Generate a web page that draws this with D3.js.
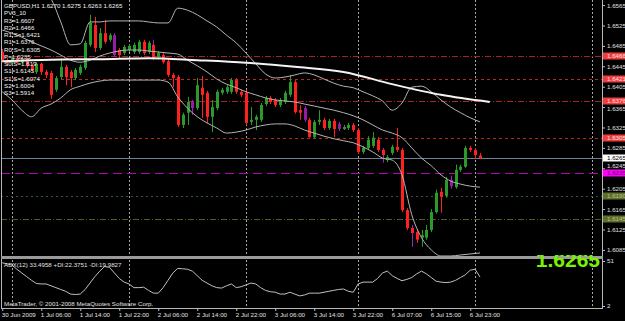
<!DOCTYPE html>
<html>
<head>
<meta charset="utf-8">
<script src="https://cdn.jsdelivr.net/npm/d3@7"></script>
<style>
    html, body { margin: 0; padding: 0; background: #000; overflow: hidden; }
    svg { display: block; font-family: "Liberation Sans", Arial, sans-serif; }
</style>
</head>
<body>
<div id="chart"></div>
<script>
'use strict';

// GBPUSD H1, bars from 30 Jun 2009 22:00 to 7 Jul 2009 01:00.
var symbol = 'GBPUSD,H1';

var opens = [
    1.6473, 1.6457, 1.6452, 1.6461, 1.6453, 1.6459, 1.6446, 1.6434, 1.6450, 1.6434,
    1.6432, 1.6399, 1.6424, 1.6444, 1.6434, 1.6422, 1.6432, 1.6442, 1.6487, 1.6526,
    1.6481, 1.6510, 1.6497, 1.6506, 1.6477, 1.6471, 1.6477, 1.6473, 1.6473, 1.6493,
    1.6473, 1.6487, 1.6463, 1.6467, 1.6455, 1.6428, 1.6424, 1.6330, 1.6354, 1.6375,
    1.6363, 1.6403, 1.6393, 1.6346, 1.6363, 1.6393, 1.6395, 1.6395, 1.6418, 1.6395,
    1.6393, 1.6336, 1.6340, 1.6340, 1.6371, 1.6383, 1.6379, 1.6369, 1.6375, 1.6389,
    1.6414, 1.6359, 1.6363, 1.6340, 1.6306, 1.6336, 1.6340, 1.6324, 1.6338, 1.6332,
    1.6322, 1.6324, 1.6330, 1.6320, 1.6277, 1.6285, 1.6289, 1.6301, 1.6281, 1.6261,
    1.6275, 1.6287, 1.6281, 1.6163, 1.6128, 1.6120, 1.6109, 1.6109, 1.6124, 1.6159,
    1.6199, 1.6191, 1.6222, 1.6208, 1.6242, 1.6248, 1.6285, 1.6281, 1.6270
];
var highs = [
    1.6479, 1.6461, 1.6465, 1.6465, 1.6463, 1.6461, 1.6450, 1.6453, 1.6452, 1.6438,
    1.6436, 1.6426, 1.6461, 1.6448, 1.6438, 1.6442, 1.6448, 1.6495, 1.6546, 1.6542,
    1.6520, 1.6536, 1.6510, 1.6510, 1.6481, 1.6487, 1.6489, 1.6491, 1.6497, 1.6497,
    1.6495, 1.6497, 1.6475, 1.6471, 1.6461, 1.6432, 1.6428, 1.6354, 1.6385, 1.6379,
    1.6422, 1.6426, 1.6397, 1.6379, 1.6399, 1.6403, 1.6408, 1.6422, 1.6422, 1.6399,
    1.6399, 1.6365, 1.6350, 1.6373, 1.6387, 1.6387, 1.6383, 1.6383, 1.6397, 1.6428,
    1.6418, 1.6369, 1.6367, 1.6344, 1.6340, 1.6359, 1.6344, 1.6342, 1.6342, 1.6336,
    1.6330, 1.6334, 1.6334, 1.6324, 1.6289, 1.6308, 1.6316, 1.6306, 1.6285, 1.6271,
    1.6291, 1.6324, 1.6285, 1.6167, 1.6134, 1.6126, 1.6124, 1.6134, 1.6165, 1.6203,
    1.6207, 1.6228, 1.6230, 1.6252, 1.6252, 1.6289, 1.6289, 1.6285, 1.6275
];
var lows = [
    1.6453, 1.6446, 1.6448, 1.6450, 1.6450, 1.6442, 1.6434, 1.6430, 1.6428, 1.6422,
    1.6381, 1.6395, 1.6420, 1.6408, 1.6404, 1.6418, 1.6428, 1.6438, 1.6483, 1.6473,
    1.6477, 1.6489, 1.6493, 1.6463, 1.6461, 1.6467, 1.6473, 1.6469, 1.6469, 1.6467,
    1.6469, 1.6457, 1.6461, 1.6450, 1.6424, 1.6404, 1.6326, 1.6324, 1.6330, 1.6350,
    1.6359, 1.6344, 1.6334, 1.6316, 1.6359, 1.6389, 1.6391, 1.6391, 1.6391, 1.6385,
    1.6330, 1.6330, 1.6320, 1.6336, 1.6367, 1.6371, 1.6365, 1.6365, 1.6371, 1.6385,
    1.6352, 1.6340, 1.6336, 1.6305, 1.6303, 1.6330, 1.6320, 1.6320, 1.6306, 1.6318,
    1.6320, 1.6320, 1.6316, 1.6273, 1.6273, 1.6281, 1.6285, 1.6277, 1.6256, 1.6257,
    1.6271, 1.6277, 1.6159, 1.6124, 1.6091, 1.6099, 1.6091, 1.6105, 1.6120, 1.6156,
    1.6158, 1.6187, 1.6205, 1.6205, 1.6238, 1.6246, 1.6277, 1.6263, 1.6263
];
var closes = [
    1.6457, 1.6452, 1.6461, 1.6453, 1.6459, 1.6446, 1.6438, 1.6450, 1.6434, 1.6428,
    1.6389, 1.6422, 1.6444, 1.6424, 1.6422, 1.6438, 1.6444, 1.6491, 1.6530, 1.6481,
    1.6510, 1.6493, 1.6506, 1.6467, 1.6467, 1.6483, 1.6485, 1.6487, 1.6493, 1.6471,
    1.6491, 1.6461, 1.6471, 1.6453, 1.6428, 1.6422, 1.6330, 1.6350, 1.6375, 1.6363,
    1.6408, 1.6389, 1.6346, 1.6365, 1.6395, 1.6399, 1.6404, 1.6418, 1.6395, 1.6389,
    1.6334, 1.6340, 1.6346, 1.6369, 1.6383, 1.6375, 1.6369, 1.6379, 1.6393, 1.6414,
    1.6355, 1.6354, 1.6340, 1.6306, 1.6336, 1.6340, 1.6324, 1.6338, 1.6322, 1.6322,
    1.6326, 1.6330, 1.6320, 1.6277, 1.6285, 1.6301, 1.6305, 1.6281, 1.6271, 1.6267,
    1.6287, 1.6281, 1.6163, 1.6128, 1.6118, 1.6105, 1.6114, 1.6124, 1.6159, 1.6197,
    1.6189, 1.6222, 1.6210, 1.6242, 1.6248, 1.6285, 1.6281, 1.6271, 1.6265
];
// Bars painted purple on the screenshot (purple wick; the first group also has a purple body).
var purpleBodyBars = [23, 39, 62, 69, 92];
var purpleWickBars = [31, 78, 84];

// Bollinger bands, read every second bar (bar 0, 2, 4 ... 98).
var bbStep = 2;
var bbUpper = [
    1.6673, 1.6649, 1.6628, 1.6608, 1.6591, 1.6577, 1.6532, 1.6487, 1.6489, 1.6532,
    1.6532, 1.6534, 1.6534, 1.6534, 1.6534, 1.6532, 1.6530, 1.6530, 1.6559, 1.6555,
    1.6546, 1.6534, 1.6522, 1.6506, 1.6491, 1.6471, 1.6450, 1.6430, 1.6422, 1.6424,
    1.6428, 1.6432, 1.6428, 1.6420, 1.6412, 1.6406, 1.6403, 1.6395, 1.6387, 1.6377,
    1.6359, 1.6373, 1.6404, 1.6406, 1.6395, 1.6379, 1.6365, 1.6354, 1.6344, 1.6336
];
var bbMiddle = [
    1.6516, 1.6510, 1.6502, 1.6493, 1.6485, 1.6477, 1.6467, 1.6457, 1.6453, 1.6457,
    1.6465, 1.6471, 1.6475, 1.6477, 1.6477, 1.6475, 1.6473, 1.6471, 1.6469, 1.6457,
    1.6446, 1.6434, 1.6420, 1.6410, 1.6403, 1.6395, 1.6389, 1.6383, 1.6379, 1.6377,
    1.6375, 1.6371, 1.6367, 1.6363, 1.6359, 1.6354, 1.6348, 1.6340, 1.6330, 1.6320,
    1.6314, 1.6305, 1.6285, 1.6265, 1.6250, 1.6232, 1.6220, 1.6214, 1.6210, 1.6208
];
var bbLower = [
    1.6395, 1.6379, 1.6359, 1.6346, 1.6363, 1.6371, 1.6383, 1.6399, 1.6406, 1.6412,
    1.6416, 1.6418, 1.6418, 1.6418, 1.6418, 1.6418, 1.6418, 1.6414, 1.6385, 1.6363,
    1.6346, 1.6334, 1.6324, 1.6314, 1.6316, 1.6320, 1.6326, 1.6330, 1.6332, 1.6332,
    1.6328, 1.6320, 1.6314, 1.6308, 1.6303, 1.6299, 1.6295, 1.6287, 1.6277, 1.6265,
    1.6261, 1.6232, 1.6154, 1.6109, 1.6085, 1.6073, 1.6073, 1.6075, 1.6077, 1.6079
];

// Long moving average (white), read every tenth bar (it runs two bars past the last candle).
var maStep = 10;
var maValues = [1.6455, 1.6458, 1.6459, 1.6461, 1.6457, 1.6452, 1.6444, 1.6434, 1.6410, 1.6389, 1.6375];

// ADX(12) sub window, one value per bar.
var adxValues = [
    49, 48, 46.5, 42, 38, 34, 30, 26.5, 26, 26,
    24, 22, 20, 18, 15, 14.5, 15, 20, 27, 34,
    40, 45, 44, 38, 32, 28, 26, 22, 22, 22.5,
    19, 16, 16, 22, 30, 38, 43, 42.5, 42, 40,
    35, 30, 27, 24, 22, 21.5, 24, 26, 22, 23,
    25, 27, 26, 22, 19, 17.5, 17, 15, 15, 17,
    15, 13, 14, 16, 16, 16, 17, 18, 19, 20,
    20.5, 18, 17, 26, 28, 28, 28, 32, 38, 40,
    35, 32, 29.5, 31, 33, 37, 40, 37, 33, 29,
    28, 27.5, 28, 30, 33, 36, 41, 42, 33.5
];
var adxLegend = 'ADX(12) 33.4958 +DI:22.3751 -DI:19.9827';
var adxScaleLabels = [2, 51];

// PV3_10 pivot levels.
var pivotNames  = ['R3', 'R2', 'R1:S', 'R1', 'R0:S', 'P', 'S0:S', 'S1', 'S1:S', 'S2', 'S3'];
var pivotValues = [1.6607, 1.6466, 1.6421, 1.6376, 1.6305, 1.6235, 1.6190, 1.6145, 1.6074, 1.6004, 1.5914];

// Axis ticks.
var priceTicks = [1.6565, 1.6525, 1.6485, 1.6445, 1.6405, 1.6365, 1.6325, 1.6285, 1.6245, 1.6205, 1.6165, 1.6125, 1.6085];
var timeTickBars = [0, 8, 16, 24, 32, 40, 48, 56, 64, 72, 80, 88, 96];
var timeLabels = ['30 Jun 2009', '1 Jul 06:00', '1 Jul 14:00', '1 Jul 22:00', '2 Jul 06:00', '2 Jul 14:00',
    '2 Jul 22:00', '3 Jul 06:00', '3 Jul 14:00', '3 Jul 22:00', '6 Jul 07:00', '6 Jul 15:00', '6 Jul 23:00'];
var dayStartBars = [2, 26, 50, 73, 97, 121];

// ---------------------------------------------------------------------------

var width = 625,
    height = 321,
    left = 1,
    right = 602,
    mainTop = 0,
    mainBottom = 256,
    subTop = 259,
    subBottom = 308,
    fontSize = 6.2,
    tagHeight = 7;

var pivotStyle = {
    'R2':   { color: '#a82424', dash: '6,2,1,2', label: '#f03c3c', text: '#ffe0e0' },
    'R1:S': { color: '#b82a20', dash: '3,3',     label: '#f03c3c', text: '#ffe0e0' },
    'R1':   { color: '#a82424', dash: '6,2,1,2', label: '#f03c3c', text: '#ffe0e0' },
    'R0:S': { color: '#b82a20', dash: '3,3',     label: '#f03c3c', text: '#ffe0e0' },
    'P':    { color: '#b800b8', dash: '9,5',     label: '#ff00ff', text: '#500050' },
    'S0:S': { color: '#2e5a2e', dash: '2,3',     label: '#5f6f2a', text: '#b8c090' },
    'S1':   { color: '#4c5a26', dash: '6,2,1,2', label: '#5f6f2a', text: '#b8c090' }
};

var svg = d3.select('#chart').append('svg')
    .attr('width', width)
    .attr('height', height);

svg.append('rect').attr('width', width).attr('height', height).attr('fill', '#000');

var defs = svg.append('defs');
defs.append('clipPath').attr('id', 'clipMain').append('rect')
    .attr('x', left).attr('y', mainTop).attr('width', right - left).attr('height', mainBottom - mainTop);
defs.append('clipPath').attr('id', 'clipSub').append('rect')
    .attr('x', left).attr('y', subTop).attr('width', right - left).attr('height', subBottom - subTop);
defs.append('clipPath').attr('id', 'clipBig').append('rect')
    .attr('x', left).attr('y', 255).attr('width', right - left).attr('height', subBottom - 255);

var x = d3.scaleLinear().domain([0, closes.length - 1]).range([2.25, 480]);
var y = d3.scaleLinear().domain([1.6073, 1.6575]).range([mainBottom, mainTop]);
var yAdx = d3.scaleLinear().domain([2, 51]).range([306, 261]);
var fmt = d3.format('.4f');

// Vertical day separators (both windows).
svg.append('g').selectAll('line')
    .data(dayStartBars)
    .enter().append('line')
    .attr('x1', function (d) { return Math.round(x(d)) + 0.5; })
    .attr('x2', function (d) { return Math.round(x(d)) + 0.5; })
    .attr('y1', mainTop)
    .attr('y2', subBottom)
    .attr('stroke', '#a8a8a8')
    .attr('stroke-dasharray', '2,2');

var main = svg.append('g').attr('clip-path', 'url(#clipMain)');

// Pivot lines that fall inside the price window.
var pivots = pivotNames.map(function (name, i) {
    return { name: name, value: pivotValues[i] };
}).filter(function (d) {
    return pivotStyle[d.name] && d.value > y.domain()[0] + 0.001 && d.value < y.domain()[1];
});

main.selectAll('.pivot')
    .data(pivots)
    .enter().append('line')
    .attr('class', 'pivot')
    .attr('x1', left)
    .attr('x2', right)
    .attr('y1', function (d) { return Math.round(y(d.value)) + 0.5; })
    .attr('y2', function (d) { return Math.round(y(d.value)) + 0.5; })
    .attr('stroke', function (d) { return pivotStyle[d.name].color; })
    .attr('stroke-dasharray', function (d) { return pivotStyle[d.name].dash; });

// Bid line.
var lastClose = closes[closes.length - 1];
main.append('line')
    .attr('x1', left).attr('x2', right)
    .attr('y1', Math.round(y(lastClose)) + 0.5)
    .attr('y2', Math.round(y(lastClose)) + 0.5)
    .attr('stroke', '#6f8090');

// Candles.
var bars = closes.map(function (c, i) {
    var up = c >= opens[i],
        base = up ? '#2a9a2a' : '#ff2020',
        purpleBody = purpleBodyBars.indexOf(i) >= 0,
        purpleWick = purpleBody || purpleWickBars.indexOf(i) >= 0;

    return {
        i: i, o: opens[i], h: highs[i], l: lows[i], c: c,
        body: purpleBody ? '#9a1aa8' : base,
        wick: purpleWick ? '#a020c0' : base
    };
});

var candle = main.selectAll('.candle')
    .data(bars)
    .enter().append('g')
    .attr('class', 'candle');

candle.append('line')
    .attr('x1', function (d) { return Math.round(x(d.i)) + 0.5; })
    .attr('x2', function (d) { return Math.round(x(d.i)) + 0.5; })
    .attr('y1', function (d) { return y(d.h); })
    .attr('y2', function (d) { return y(d.l); })
    .attr('stroke', function (d) { return d.wick; });

candle.append('rect')
    .attr('x', function (d) { return Math.round(x(d.i)) - 1; })
    .attr('y', function (d) { return y(Math.max(d.o, d.c)); })
    .attr('width', 3)
    .attr('height', function (d) { return Math.max(1, Math.abs(y(d.o) - y(d.c))); })
    .attr('fill', function (d) { return d.body; });

// Bollinger bands.
var bandLine = d3.line()
    .x(function (d, k) { return x(k * bbStep); })
    .y(function (d) { return y(d); })
    .curve(d3.curveMonotoneX);

[bbUpper, bbMiddle, bbLower].forEach(function (band) {
    main.append('path')
        .attr('d', bandLine(band))
        .attr('fill', 'none')
        .attr('stroke', '#b4b4b4')
        .attr('stroke-width', 1);
});

// Long moving average.
main.append('path')
    .attr('d', d3.line()
        .x(function (d, k) { return x(k * maStep); })
        .y(function (d) { return y(d); })
        .curve(d3.curveMonotoneX)(maValues))
    .attr('fill', 'none')
    .attr('stroke', '#f4f4f4')
    .attr('stroke-width', 2);

// ADX window.
var sub = svg.append('g').attr('clip-path', 'url(#clipSub)');
sub.append('path')
    .attr('d', d3.line()
        .x(function (d, i) { return x(i); })
        .y(function (d) { return yAdx(d); })(adxValues))
    .attr('fill', 'none')
    .attr('stroke', '#c0c0c0');

// Frames and window separator.
var frame = svg.append('g').attr('stroke', '#b8b8b8').attr('fill', 'none');
frame.append('line').attr('x1', left + 0.5).attr('x2', left + 0.5).attr('y1', 0).attr('y2', subBottom);
frame.append('line').attr('x1', right + 0.5).attr('x2', right + 0.5).attr('y1', 0).attr('y2', subBottom + 1);
frame.append('line').attr('x1', left).attr('x2', right).attr('y1', subBottom + 0.5).attr('y2', subBottom + 0.5);
svg.append('rect')
    .attr('x', left).attr('y', mainBottom)
    .attr('width', right - left + 1).attr('height', 3)
    .attr('fill', '#9a9a9a');
frame.append('line').attr('x1', left).attr('x2', right).attr('y1', mainBottom + 0.5).attr('y2', mainBottom + 0.5).attr('stroke', '#e0e0e0');
frame.append('line').attr('x1', left).attr('x2', right).attr('y1', mainBottom + 2.5).attr('y2', mainBottom + 2.5).attr('stroke', '#e0e0e0');

// Price tags (pivots and bid), needed before the axis so ticks can dodge them.
var tags = pivots.map(function (d) {
    return { value: d.value, fill: pivotStyle[d.name].label, text: pivotStyle[d.name].text };
});
tags.push({ value: lastClose, fill: '#ffffff', text: '#000000' });

// Axes.
function styleAxis(g) {
    g.select('.domain').remove();
    g.selectAll('.tick line').attr('stroke', '#c0c0c0');
    g.selectAll('.tick text').attr('fill', '#e0e0e0').style('font-size', fontSize + 'px');
}

var priceAxis = svg.append('g')
    .attr('transform', 'translate(' + right + ',0)')
    .call(d3.axisRight(y).tickValues(priceTicks).tickSize(3).tickPadding(2).tickFormat(fmt))
    .call(styleAxis);

// Nudge tick labels that would sit under a price tag.
priceAxis.selectAll('.tick text').attr('y', function (d) {
    var shift = 0;
    tags.forEach(function (t) {
        var gap = y(d) - Math.round(y(t.value));
        if (Math.abs(gap) < 7.5) {
            shift = gap < 0 ? -(7.5 + gap) : 7.5 - gap;
        }
    });
    return shift;
});

svg.append('g')
    .attr('transform', 'translate(' + right + ',0)')
    .call(d3.axisRight(yAdx).tickValues(adxScaleLabels).tickSize(3).tickPadding(2))
    .call(styleAxis);

svg.append('g')
    .attr('transform', 'translate(0,' + subBottom + ')')
    .call(d3.axisBottom(x).tickValues(timeTickBars).tickSize(3).tickPadding(2)
        .tickFormat(function (d, i) { return timeLabels[i]; }))
    .call(styleAxis)
    .selectAll('.tick text').attr('text-anchor', 'start').attr('x', -1);

var tag = svg.selectAll('.tag')
    .data(tags)
    .enter().append('g')
    .attr('class', 'tag')
    .attr('transform', function (d) { return 'translate(' + (right + 1) + ',' + Math.round(y(d.value)) + ')'; });

tag.append('rect')
    .attr('x', 0).attr('y', -tagHeight / 2)
    .attr('width', width - right).attr('height', tagHeight)
    .attr('fill', function (d) { return d.fill; });

tag.append('text')
    .attr('x', 4).attr('dy', '0.35em')
    .attr('fill', function (d) { return d.text; })
    .style('font-size', fontSize + 'px')
    .text(function (d) { return fmt(d.value); });

// Legends.
var legend = [symbol + '  ' + [opens, highs, lows, closes].map(function (a) {
    return fmt(a[a.length - 1]);
}).join(' '), 'PV3_10'].concat(pivotNames.map(function (n, i) {
    return n + '=' + (+pivotValues[i].toFixed(4));
}));

svg.append('g').selectAll('text')
    .data(legend)
    .enter().append('text')
    .attr('x', 4)
    .attr('y', function (d, i) { return 8 + i * 7.25; })
    .attr('fill', '#f0f0f0')
    .style('font-size', fontSize + 'px')
    .text(function (d) { return d; });

svg.append('text')
    .attr('x', 4).attr('y', 267)
    .attr('fill', '#e0e0e0')
    .style('font-size', fontSize + 'px')
    .text(adxLegend);

svg.append('text')
    .attr('x', 4).attr('y', 306)
    .attr('fill', '#e0e0e0')
    .style('font-size', fontSize + 'px')
    .text('MetaTrader, \u00a9 2001-2008 MetaQuotes Software Corp.');

// Big bid price.
svg.append('text')
    .attr('clip-path', 'url(#clipBig)')
    .attr('x', 600).attr('y', 267)
    .attr('text-anchor', 'end')
    .attr('fill', '#7cf000')
    .style('font-size', '21px')
    .style('font-weight', 'bold')
    .text(fmt(lastClose));
</script>
</body>
</html>
